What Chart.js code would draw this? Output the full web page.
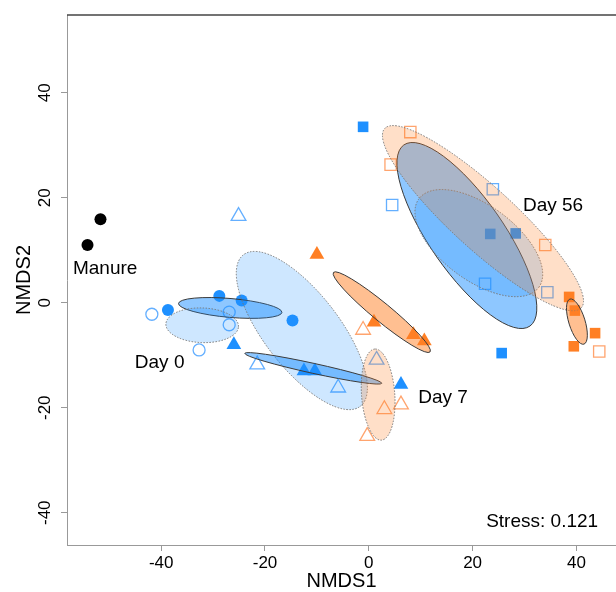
<!DOCTYPE html>
<html>
<head>
<meta charset="utf-8">
<script src="https://cdn.jsdelivr.net/npm/chart.js@4.4.1/dist/chart.umd.min.js"></script>
<style>
  body { margin: 0; background: #fff; }
  #wrap { width: 616px; height: 592px; }
</style>
</head>
<body>
<div id="wrap"><canvas id="nmds" width="616" height="592"></canvas></div>
<script>
// NMDS site scores [NMDS1, NMDS2]
const manure = [[-51.7, 15.9], [-54.2, 11.0]];
const blueFilledCircles = [[-38.7, -1.4], [-28.8, 1.3], [-24.5, 0.4], [-14.7, -3.4]];
const blueOpenCircles = [[-41.8, -2.2], [-26.9, -1.8], [-26.9, -4.2], [-32.7, -9.0]];
const blueFilledTriangles = [[-26.0, -8.0], [-12.5, -13.0], [-10.4, -13.0], [6.2, -15.6]];
const blueOpenTriangles = [[-25.1, 16.5], [-21.5, -11.8], [-5.9, -16.2], [1.5, -10.9]];
const orangeFilledTriangles = [[-10.0, 9.2], [1.0, -3.7], [8.6, -6.1], [10.7, -7.3]];
const orangeOpenTriangles = [[-1.1, -5.2], [3.0, -20.3], [6.2, -19.4], [-0.3, -25.4]];
const blueFilledSquares = [[-1.1, 33.5], [23.4, 13.1], [28.3, 13.2], [25.6, -9.6]];
const blueOpenSquares = [[4.5, 18.6], [23.9, 21.6], [22.4, 3.6], [34.4, 2.0]];
const orangeFilledSquares = [[38.6, 1.1], [39.7, -1.5], [43.6, -5.8], [39.5, -8.3]];
const orangeOpenSquares = [[8.0, 32.5], [4.2, 26.3], [34.0, 11.0], [44.4, -9.3]];

// group ellipses: [centre1, centre2, semi-major, semi-minor, angle deg]
const ellBlueDay0 = [-26.7, -1.0, 10.0, 1.8, -4.9];
const ellBlueDay0Open = [-32.1, -4.3, 7.0, 3.3, -2];
const ellBlueDay7 = [-10.7, -12.5, 13.5, 0.95, -12.2];
const ellBlueDay7Open = [-12.9, -5.3, 18.3, 7.2, -51.9];
const ellBlueDay56 = [18.9, 12.8, 21.1, 7.1, -54.8];
const ellBlueDay56Open = [21.2, 11.35, 14.3, 7.15, -36];
const ellOrangeDay7 = [2.5, -1.8, 12.0, 1.75, -39.1];
const ellOrangeDay7Open = [1.8, -17.5, 8.7, 3.2, 94.2];
const ellOrangeDay56 = [40.1, -3.6, 4.5, 1.56, 107.5];
const ellOrangeDay56Open = [22.0, 16.1, 25.5, 6.0, -42.0];

const xTicks = [-40, -20, 0, 20, 40];
const yTicks = [-40, -20, 0, 20, 40];

const labelText = ['Manure', 'Day 0', 'Day 7', 'Day 56', 'Stress: 0.121'];
const labelX = [-50.8, -40.3, 14.3, 35.5, 33.4];
const labelY = [6.4, -11.5, -18.2, 18.4, -41.7];

const BLUE = '#1E90FF', BLUE_OPEN = '#64AFFF';
const ORANGE = '#FF7F24', ORANGE_OPEN = '#FFA46E';
const FONT = '"Liberation Sans", Arial, Helvetica, sans-serif';

function pts(arr) {
    return arr.map(p => ({ x: p[0], y: p[1] }));
}

function filled(label, arr, color, style, r) {
    return {
        label: label, data: pts(arr), pointStyle: style, pointRadius: r,
        backgroundColor: color, borderColor: color, borderWidth: 0
    };
}

function open(label, arr, color, style, r) {
    return {
        label: label, data: pts(arr), pointStyle: style, pointRadius: r,
        backgroundColor: 'rgba(0,0,0,0)', borderColor: color, borderWidth: 1.3
    };
}

// ellipse list with fill, and whether the outline is dotted
const ellipses = [
    [ellBlueDay0, 'rgba(30,144,255,0.5)', false],
    [ellBlueDay0Open, 'rgba(30,144,255,0.22)', true],
    [ellBlueDay7Open, 'rgba(30,144,255,0.22)', true],
    [ellBlueDay7, 'rgba(30,144,255,0.5)', false],
    [ellBlueDay56, 'rgba(30,144,255,0.5)', false],
    [ellBlueDay56Open, 'rgba(30,144,255,0.22)', true],
    [ellOrangeDay7, 'rgba(255,127,36,0.5)', false],
    [ellOrangeDay7Open, 'rgba(255,127,36,0.25)', true],
    [ellOrangeDay56Open, 'rgba(255,127,36,0.25)', true],
    [ellOrangeDay56, 'rgba(255,127,36,0.5)', false]
];

const ellipsePlugin = {
    id: 'ellipses',
    afterDatasetsDraw(chart) {
        const ctx = chart.ctx, xs = chart.scales.x, ys = chart.scales.y, area = chart.chartArea;
        const sx = xs.getPixelForValue(1) - xs.getPixelForValue(0);
        const sy = ys.getPixelForValue(0) - ys.getPixelForValue(1);
        ctx.save();
        ctx.beginPath();
        ctx.rect(area.left, area.top, area.right - area.left, area.bottom - area.top);
        ctx.clip();
        ellipses.forEach(([e, fill, dotted]) => {
            ctx.save();
            ctx.beginPath();
            ctx.translate(xs.getPixelForValue(e[0]), ys.getPixelForValue(e[1]));
            ctx.scale(sx, -sy);
            ctx.rotate(e[4] * Math.PI / 180);
            ctx.ellipse(0, 0, e[2], e[3], 0, 0, Math.PI * 2);
            ctx.restore();
            ctx.fillStyle = fill;
            ctx.fill();
            ctx.lineWidth = 1;
            if (dotted) {
                ctx.setLineDash([1.5, 1.5]);
                ctx.strokeStyle = '#777';
            } else {
                ctx.setLineDash([]);
                ctx.strokeStyle = '#3a3a3a';
            }
            ctx.stroke();
        });
        ctx.restore();
    },
    afterDraw(chart) {
        const ctx = chart.ctx, xs = chart.scales.x, ys = chart.scales.y, area = chart.chartArea;
        ctx.save();
        // top frame line
        ctx.strokeStyle = '#444';
        ctx.lineWidth = 1.5;
        ctx.beginPath();
        ctx.moveTo(area.left, area.top);
        ctx.lineTo(area.right, area.top);
        ctx.stroke();

        ctx.fillStyle = '#000';
        ctx.textAlign = 'center';
        ctx.textBaseline = 'middle';
        // tick labels
        ctx.font = '17px ' + FONT;
        xs.ticks.forEach(t => {
            ctx.fillText(String(t.value), xs.getPixelForValue(t.value), 563);
        });
        ys.ticks.forEach(t => {
            ctx.save();
            ctx.translate(45, ys.getPixelForValue(t.value));
            ctx.rotate(-Math.PI / 2);
            ctx.fillText(String(t.value), 0, 0);
            ctx.restore();
        });
        // axis titles
        ctx.font = '20px ' + FONT;
        ctx.fillText('NMDS1', (area.left + area.right) / 2, 581);
        ctx.save();
        ctx.translate(24, (area.top + area.bottom) / 2);
        ctx.rotate(-Math.PI / 2);
        ctx.fillText('NMDS2', 0, 0);
        ctx.restore();
        // group labels
        ctx.font = '19px ' + FONT;
        labelText.forEach((txt, i) => {
            ctx.fillText(txt, xs.getPixelForValue(labelX[i]), ys.getPixelForValue(labelY[i]));
        });
        ctx.restore();
    }
};

const ctx = document.getElementById('nmds').getContext('2d');
new Chart(ctx, {
    type: 'scatter',
    data: {
        datasets: [
            filled('Manure', manure, '#000', 'circle', 6),
            filled('Day 0', blueFilledCircles, BLUE, 'circle', 6),
            open('Day 0 open', blueOpenCircles, BLUE_OPEN, 'circle', 6),
            filled('Day 7', blueFilledTriangles, BLUE, 'triangle', 8.5),
            open('Day 7 open', blueOpenTriangles, BLUE_OPEN, 'triangle', 8.5),
            filled('Day 7 orange', orangeFilledTriangles, ORANGE, 'triangle', 8.5),
            open('Day 7 orange open', orangeOpenTriangles, ORANGE_OPEN, 'triangle', 8.5),
            filled('Day 56', blueFilledSquares, BLUE, 'rect', 7.5),
            open('Day 56 open', blueOpenSquares, BLUE_OPEN, 'rect', 8),
            filled('Day 56 orange', orangeFilledSquares, ORANGE, 'rect', 7.5),
            open('Day 56 orange open', orangeOpenSquares, ORANGE_OPEN, 'rect', 8)
        ]
    },
    options: {
        responsive: false,
        animation: false,
        layout: { autoPadding: false, padding: { top: 15, right: 0, left: 0, bottom: 0 } },
        plugins: { legend: { display: false }, tooltip: { enabled: false } },
        scales: {
            x: {
                type: 'linear',
                min: -58.15,
                max: 47.63,
                afterBuildTicks: scale => { scale.ticks = xTicks.map(v => ({ value: v })); },
                afterFit: scale => { scale.height = 47; },
                ticks: { display: false },
                grid: { drawOnChartArea: false, drawTicks: true, tickLength: 6, color: '#999' },
                border: { display: true, color: '#999', width: 1 }
            },
            y: {
                type: 'linear',
                min: -46.15,
                max: 54.8,
                afterBuildTicks: scale => { scale.ticks = yTicks.map(v => ({ value: v })); },
                afterFit: scale => { scale.width = 67; },
                ticks: { display: false },
                grid: { drawOnChartArea: false, drawTicks: true, tickLength: 6, color: '#999' },
                border: { display: true, color: '#999', width: 1 }
            }
        }
    },
    plugins: [ellipsePlugin]
});
</script>
</body>
</html>
